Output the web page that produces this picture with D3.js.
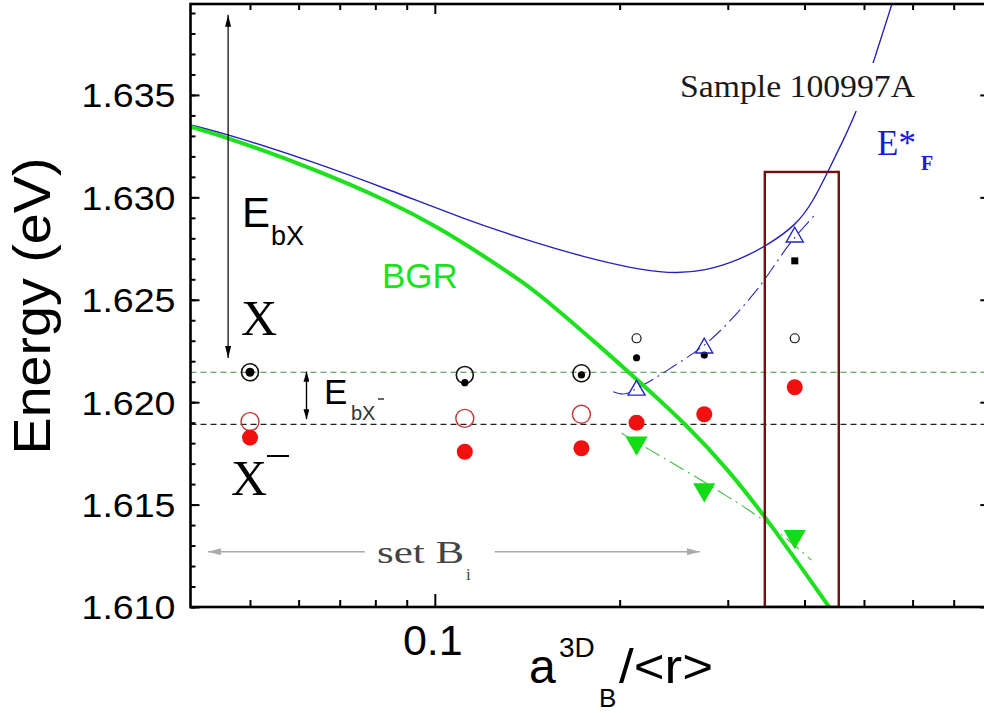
<!DOCTYPE html>
<html><head><meta charset="utf-8">
<script src="https://cdn.jsdelivr.net/npm/d3@7"></script>
<style>
html,body{margin:0;padding:0;background:#fff;}
svg{display:block;}
</style></head>
<body>
<svg id="chart" width="984" height="713"></svg>
<script>
// ---------- data ----------
const sampleX = [0.05, 0.1119, 0.1733, 0.2131, 0.2747, 0.3857];
const exOpenLarge = [1.62146, 1.62133, 1.62141, null, null, null];
const exOpenSmall = [null, null, null, 1.62312, null, 1.62312];
const exFilled   = [1.62146, 1.62095, 1.62133, 1.62217, 1.6223, null];
const exSquare   = [null, null, null, null, null, 1.6269];
const trionOpen  = [1.61905, 1.61921, 1.61941, null, null, null];
const trionFilled = [1.61827, 1.61758, 1.61775, 1.6190, 1.61941, 1.62073];
const blueTriangles = [null, null, null, 1.62068, 1.62274, 1.62816];
const greenTriangles = [null, null, null, 1.61791, 1.61563, 1.61335];

const bgrX = [0.0400, 0.04637, 0.06418, 0.08446, 0.10189, 0.11838, 0.13926, 0.15584, 0.1822, 0.2131, 0.2602, 0.2986, 0.3469, 0.4399];
const bgrE = [1.63345, 1.63289, 1.63134, 1.62979, 1.62849, 1.62726, 1.62587, 1.62470, 1.62294, 1.62113, 1.61874, 1.61679, 1.61435, 1.60995];

const efX = [0.0400, 0.04637, 0.06334, 0.08446, 0.11262, 0.13926, 0.17877, 0.2369, 0.2771, 0.3139, 0.3469, 0.3881, 0.4127, 0.4366, 0.4620, 0.4887, 0.5189, 0.5546];
const efE = [1.63354, 1.63305, 1.63174, 1.63036, 1.62890, 1.62797, 1.62699, 1.62621, 1.62641, 1.62697, 1.62763, 1.62865, 1.62978, 1.63124, 1.63275, 1.63432, 1.63666, 1.63939];

const blueFitX = [0.1952, 0.2025, 0.2158, 0.2441, 0.2773, 0.3345, 0.3828, 0.4158];
const blueFitE = [1.62051, 1.62040, 1.62076, 1.62173, 1.62289, 1.62548, 1.62792, 1.62914];

const greenFitX = [0.2014, 0.2240, 0.2912, 0.3421, 0.4107];
const greenFitE = [1.61848, 1.61767, 1.61563, 1.61425, 1.61229];

const levelX = 1.62146;      // green dashed
const levelTrion = 1.61892;  // black dashed

const boxX = [0.3447, 0.4549];
const boxE = [1.610, 1.63124];

const arrowEbX = {x: 0.04606, e0: 1.63891, e1: 1.62216};
const arrowEbT = {x: 0.0618, e0: 1.62149, e1: 1.61917};
const setArrow = {e: 1.6127, x0: 0.04269, x1: 0.2702, gap0: 0.0769, gap1: 0.1252};

const yMajor = [1.610, 1.615, 1.620, 1.625, 1.630, 1.635];
const yMinor = d3.range(1610, 1640).map(v => v / 1000);
const xMajor = [0.1];
const xMinor = [0.05, 0.06, 0.07, 0.08, 0.09, 0.2, 0.3, 0.4, 0.5, 0.6, 0.7];
const xTickLabels = ["0.1"];

// ---------- scales ----------
const L = 190.5, R = 989.3, T = 4, B = 607;
const x = d3.scaleLog().domain([0.04, 0.8]).range([L, R]);
const y = d3.scaleLinear().domain([1.610, 1.63944]).range([B, T]);

const svg = d3.select("#chart");
const SANS = "'Liberation Sans', Arial, sans-serif";
const SERIF = "'Liberation Serif', 'Times New Roman', serif";

const defs = svg.append("defs");
defs.append("clipPath").attr("id", "clip").append("rect")
  .attr("x", L).attr("y", T).attr("width", R - L).attr("height", B - T);
function marker(id, color, w, h) {
  defs.append("marker").attr("id", id).attr("viewBox", `0 -${w/2} ${h} ${w}`)
    .attr("refX", h).attr("refY", 0).attr("markerUnits", "userSpaceOnUse")
    .attr("markerWidth", h).attr("markerHeight", w).attr("orient", "auto-start-reverse")
    .append("path").attr("d", `M0,-${w/2}L${h},0L0,${w/2}Z`).attr("fill", color);
}
marker("arrBlack", "#000", 6, 12);
marker("arrBlack2", "#000", 6, 10);
marker("arrGray", "#aaa", 7, 13);

const plot = svg.append("g").attr("clip-path", "url(#clip)");

// dashed levels
plot.append("line").attr("x1", L).attr("x2", R).attr("y1", y(levelX)).attr("y2", y(levelX))
  .attr("stroke", "#3c8c3c").attr("stroke-width", 1.2).attr("stroke-dasharray", "6,4");
plot.append("line").attr("x1", L).attr("x2", R).attr("y1", y(levelTrion)).attr("y2", y(levelTrion))
  .attr("stroke", "#222").attr("stroke-width", 1.3).attr("stroke-dasharray", "6,4");

const line = d3.line().x(d => x(d[0])).y(d => y(d[1])).curve(d3.curveMonotoneX);
const smooth = d3.line().x(d => x(d[0])).y(d => y(d[1])).curve(d3.curveBasis);
const zip = (a, b) => a.map((v, i) => [v, b[i]]);

// E*F curve (blue)
plot.append("path").datum(zip(efX, efE)).attr("d", smooth)
  .attr("fill", "none").attr("stroke", "#2424b4").attr("stroke-width", 1.4);
// fit lines
plot.append("path").datum(zip(blueFitX, blueFitE)).attr("d", line)
  .attr("fill", "none").attr("stroke", "#2a2ab0").attr("stroke-width", 1.1).attr("stroke-dasharray", "16,5,2,5");
plot.append("path").datum(zip(greenFitX, greenFitE)).attr("d", line)
  .attr("fill", "none").attr("stroke", "#44bb44").attr("stroke-width", 1.1).attr("stroke-dasharray", "16,5,2,5");
// BGR
plot.append("path").datum(zip(bgrX, bgrE)).attr("d", smooth)
  .attr("fill", "none").attr("stroke", "#1ee01e").attr("stroke-width", 4);

// box
plot.append("rect").attr("x", x(boxX[0])).attr("y", y(boxE[1]))
  .attr("width", x(boxX[1]) - x(boxX[0])).attr("height", y(boxE[0]) - y(boxE[1]))
  .attr("fill", "none").attr("stroke", "#701010").attr("stroke-width", 2.4);

// Sample label (white background breaks the curve)
svg.append("rect").attr("x", 676).attr("y", 63).attr("width", 245).attr("height", 48).attr("fill", "#fff");
svg.append("text").attr("x", 680).attr("y", 97).attr("font-family", SERIF).attr("font-size", 32)
  .attr("textLength", 235).attr("lengthAdjust", "spacingAndGlyphs").attr("fill", "#1a1a1a").text("Sample 100997A");

// ---------- points ----------
const pts = (arr) => sampleX.map((v, i) => [v, arr[i]]).filter(d => d[1] != null);

plot.selectAll(".tOpen").data(pts(trionOpen)).join("circle")
  .attr("cx", d => x(d[0])).attr("cy", d => y(d[1])).attr("r", 9)
  .attr("fill", "none").attr("stroke", "#c03838").attr("stroke-width", 1.4);
plot.selectAll(".tFill").data(pts(trionFilled)).join("circle")
  .attr("cx", d => x(d[0])).attr("cy", d => y(d[1])).attr("r", 8).attr("fill", "#f01010");
plot.selectAll(".xOL").data(pts(exOpenLarge)).join("circle")
  .attr("cx", d => x(d[0])).attr("cy", d => y(d[1])).attr("r", 8.5)
  .attr("fill", "none").attr("stroke", "#111").attr("stroke-width", 1.6);
plot.selectAll(".xOS").data(pts(exOpenSmall)).join("circle")
  .attr("cx", d => x(d[0])).attr("cy", d => y(d[1])).attr("r", 4.5)
  .attr("fill", "#fff").attr("stroke", "#111").attr("stroke-width", 1.2);
plot.selectAll(".xF").data(pts(exFilled)).join("circle")
  .attr("cx", d => x(d[0])).attr("cy", d => y(d[1])).attr("r", (d, i) => i === 0 ? 4.5 : 3.6).attr("fill", "#000");
plot.selectAll(".xS").data(pts(exSquare)).join("rect")
  .attr("x", d => x(d[0]) - 3.5).attr("y", d => y(d[1]) - 3.5).attr("width", 7).attr("height", 7).attr("fill", "#000");
const tri = d3.symbol(d3.symbolTriangle);
plot.selectAll(".bT").data(pts(blueTriangles)).join("path")
  .attr("d", tri.size(125)()).attr("transform", d => `translate(${x(d[0])},${y(d[1]) + 2})`)
  .attr("fill", "none").attr("stroke", "#2626c0").attr("stroke-width", 1.4);
plot.selectAll(".gT").data(pts(greenTriangles)).join("path")
  .attr("d", tri.size(215)()).attr("transform", d => `translate(${x(d[0])},${y(d[1]) - 2}) rotate(180)`)
  .attr("fill", "#14dc14");

// ---------- arrows ----------
svg.append("line").attr("x1", x(arrowEbX.x)).attr("x2", x(arrowEbX.x))
  .attr("y1", y(arrowEbX.e0)).attr("y2", y(arrowEbX.e1)).attr("stroke", "#000").attr("stroke-width", 1.2)
  .attr("marker-start", "url(#arrBlack)").attr("marker-end", "url(#arrBlack)");
svg.append("line").attr("x1", x(arrowEbT.x)).attr("x2", x(arrowEbT.x))
  .attr("y1", y(arrowEbT.e0)).attr("y2", y(arrowEbT.e1)).attr("stroke", "#000").attr("stroke-width", 1.4)
  .attr("marker-start", "url(#arrBlack2)").attr("marker-end", "url(#arrBlack2)");
svg.append("line").attr("x1", x(setArrow.gap0)).attr("x2", x(setArrow.x0))
  .attr("y1", y(setArrow.e)).attr("y2", y(setArrow.e)).attr("stroke", "#aaa").attr("stroke-width", 1.5)
  .attr("marker-end", "url(#arrGray)");
svg.append("line").attr("x1", x(setArrow.gap1)).attr("x2", x(setArrow.x1))
  .attr("y1", y(setArrow.e)).attr("y2", y(setArrow.e)).attr("stroke", "#aaa").attr("stroke-width", 1.5)
  .attr("marker-end", "url(#arrGray)");

// ---------- axes ----------
const axG = svg.append("g");
const styleAxis = g => { g.select(".domain").remove(); g.selectAll("line").attr("stroke", "#000").attr("stroke-width", 2); };
axG.append("g").attr("transform", `translate(${L},0)`)
  .call(d3.axisLeft(y).tickValues(yMinor).tickSize(-5).tickFormat("")).call(styleAxis);
axG.append("g").attr("transform", `translate(${L},0)`)
  .call(d3.axisLeft(y).tickValues(yMajor).tickSize(-9).tickPadding(15).tickFormat(d3.format(".3f")))
  .call(styleAxis)
  .call(g => g.selectAll("text").attr("font-family", SANS).attr("font-size", 33).attr("fill", "#000")
    .attr("dy", "0.36em").attr("textLength", 94).attr("lengthAdjust", "spacingAndGlyphs"));
axG.append("g").attr("transform", `translate(${R},0)`)
  .call(d3.axisRight(y).tickValues(yMinor).tickSize(-4).tickFormat("")).call(styleAxis);
axG.append("g").attr("transform", `translate(${R},0)`)
  .call(d3.axisRight(y).tickValues(yMajor).tickSize(-9).tickFormat("")).call(styleAxis);
axG.append("g").attr("transform", `translate(0,${B})`)
  .call(d3.axisBottom(x).tickValues(xMinor).tickSize(-7).tickFormat("")).call(styleAxis);
axG.append("g").attr("transform", `translate(0,${B})`)
  .call(d3.axisBottom(x).tickValues(xMajor).tickSize(-13).tickFormat("")).call(styleAxis);
axG.append("g").attr("transform", `translate(0,${T})`)
  .call(d3.axisTop(x).tickValues(xMinor).tickSize(-6).tickFormat("")).call(styleAxis);
axG.append("g").attr("transform", `translate(0,${T})`)
  .call(d3.axisTop(x).tickValues(xMajor).tickSize(-10).tickFormat("")).call(styleAxis);
axG.append("rect").attr("x", L).attr("y", T).attr("width", R - L).attr("height", B - T)
  .attr("fill", "none").attr("stroke", "#000").attr("stroke-width", 2.6);

svg.selectAll(".xlab").data(xMajor).join("text")
  .attr("x", d => x(d) - 2).attr("y", 655).attr("text-anchor", "middle")
  .attr("font-family", SANS).attr("font-size", 43).text((d, i) => xTickLabels[i]);

// axis titles
svg.append("text").attr("transform", "translate(50,306) rotate(-90)").attr("text-anchor", "middle")
  .attr("font-family", SANS).attr("font-size", 52).attr("textLength", 297).attr("lengthAdjust", "spacingAndGlyphs")
  .text("Energy (eV)");
const xt = svg.append("g").attr("font-family", SANS).attr("fill", "#000");
xt.append("text").attr("x", 529).attr("y", 683).attr("font-size", 48).text("a");
xt.append("text").attr("x", 559).attr("y", 657).attr("font-size", 28).text("3D");
xt.append("text").attr("x", 599).attr("y", 707).attr("font-size", 26).text("B");
xt.append("text").attr("x", 619).attr("y", 683).attr("font-size", 48)
  .attr("textLength", 94).attr("lengthAdjust", "spacingAndGlyphs").text("/<r>");

// ---------- annotations ----------
const an = svg.append("g");
an.append("text").attr("x", 242).attr("y", 227).attr("font-family", SANS).attr("font-size", 42).text("E");
an.append("text").attr("x", 271).attr("y", 245).attr("font-family", SANS).attr("font-size", 27).text("bX");
an.append("text").attr("x", 241).attr("y", 335).attr("font-family", SERIF).attr("font-size", 50).text("X");
an.append("text").attr("x", 231).attr("y", 495).attr("font-family", SERIF).attr("font-size", 50).text("X");
an.append("line").attr("x1", 267).attr("x2", 289).attr("y1", 456).attr("y2", 456).attr("stroke", "#000").attr("stroke-width", 2);
an.append("text").attr("x", 382).attr("y", 288).attr("font-family", SANS).attr("font-size", 35)
  .attr("fill", "#1ee01e").text("BGR");
an.append("text").attr("x", 324).attr("y", 404).attr("font-family", SANS).attr("font-size", 35).text("E");
an.append("text").attr("x", 351).attr("y", 420).attr("font-family", SANS).attr("font-size", 20).attr("fill", "#333").text("bX");
an.append("line").attr("x1", 378).attr("x2", 384).attr("y1", 399).attr("y2", 399).attr("stroke", "#333").attr("stroke-width", 1.5);
an.append("text").attr("x", 877).attr("y", 155).attr("font-family", SERIF).attr("font-size", 35).attr("fill", "#1a1ad0").text("E*");
an.append("text").attr("x", 921).attr("y", 170).attr("font-family", SERIF).attr("font-size", 20)
  .attr("font-weight", "bold").attr("fill", "#1a1ad0").text("F");
an.append("text").attr("x", 377).attr("y", 563).attr("font-family", SERIF).attr("font-size", 32)
  .attr("textLength", 87).attr("lengthAdjust", "spacingAndGlyphs").attr("fill", "#444").text("set B");
an.append("text").attr("x", 466).attr("y", 580).attr("font-family", SERIF).attr("font-size", 17).attr("fill", "#444").text("i");
</script>
</body></html>
